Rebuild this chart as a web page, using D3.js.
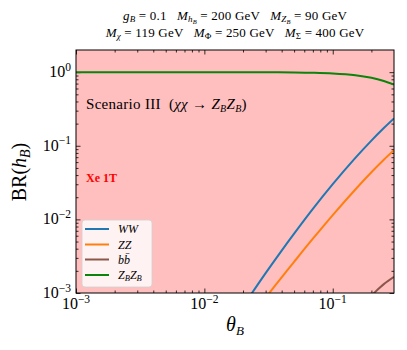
<!DOCTYPE html>
<html><head><meta charset="utf-8">
<script src="https://cdn.jsdelivr.net/npm/d3@7"></script>
<style>
body{margin:0;background:#fff;}
svg text{font-family:"Liberation Serif","DejaVu Serif",serif;}
</style></head>
<body><svg id="c" width="407" height="350"></svg>
<script>
// ---- data ----
const thetaWW = [0.02, 0.03, 0.04, 0.05, 0.07, 0.1, 0.15, 0.2, 0.25, 0.3];
const brWW    = [0.00066, 0.00186, 0.00377, 0.00641, 0.0139, 0.0301, 0.0684, 0.1175, 0.174, 0.235];
const thetaZZ = [0.03, 0.04, 0.05, 0.07, 0.1, 0.15, 0.2, 0.25, 0.3];
const brZZ    = [0.000865, 0.00163, 0.00265, 0.00546, 0.01146, 0.0255, 0.0437, 0.0646, 0.087];
const thetaBB = [0.2, 0.22, 0.25, 0.3];
const brBB    = [0.00092, 0.00108, 0.00132, 0.00166];
const thetaZBZB = [0.001, 0.003, 0.01, 0.02, 0.03, 0.05, 0.07, 0.1, 0.15, 0.2, 0.25, 0.3];
const brZBZB    = [1.0, 1.0, 1.0, 0.999, 0.997, 0.99, 0.98, 0.958, 0.906, 0.838, 0.76, 0.68];
const xTicks = [0.001, 0.01, 0.1];
const xTickExp = ["−3", "−2", "−1"];
const yTicks = [1, 0.1, 0.01, 0.001];
const yTickExp = ["0", "−1", "−2", "−3"];
const seriesNames = ["WW", "ZZ", "bb", "ZBZB"];
const colors = ["#1f77b4", "#ff7f0e", "#8c564b", "#0a840a"];

const svg = d3.select("#c");
const L = 76, R = 394, T = 50, B = 293;
const x = d3.scaleLog().domain([0.001, 0.3]).range([L, R]);
const y = d3.scaleLog().domain([0.001, 2]).range([B, T]);

svg.append("rect").attr("x", L).attr("y", T).attr("width", R - L).attr("height", B - T).attr("fill", "#ffbfbf");

svg.append("defs").append("clipPath").attr("id", "clip")
  .append("rect").attr("x", L).attr("y", T).attr("width", R - L).attr("height", B - T);

function minors(lo, hi) {
  const out = [];
  for (let e = -4; e <= 1; e++) for (let k = 2; k <= 9; k++) {
    const v = k * Math.pow(10, e);
    if (v > lo * 1.0001 && v < hi * 0.9999) out.push(v);
  }
  return out;
}
const xMin = minors(0.001, 0.3), yMin = minors(0.001, 2);

function drawAxis(axisGen, tr, vals, size) {
  const g = svg.append("g").attr("transform", tr)
    .call(axisGen.tickValues(vals).tickSizeInner(size).tickSizeOuter(0).tickFormat(""));
  g.select(".domain").remove();
  g.selectAll("line").attr("stroke", "#000").attr("stroke-width", 0.8);
  return g;
}
drawAxis(d3.axisBottom(x), `translate(0,${B})`, xTicks, -4.5);
drawAxis(d3.axisBottom(x), `translate(0,${B})`, xMin, -2.5);
drawAxis(d3.axisTop(x), `translate(0,${T})`, xTicks, -4.5);
drawAxis(d3.axisTop(x), `translate(0,${T})`, xMin, -2.5);
drawAxis(d3.axisLeft(y), `translate(${L},0)`, yTicks, -4.5);
drawAxis(d3.axisLeft(y), `translate(${L},0)`, yMin, -2.5);
drawAxis(d3.axisRight(y), `translate(${R},0)`, yTicks, -4.5);
drawAxis(d3.axisRight(y), `translate(${R},0)`, yMin, -2.5);

xTicks.forEach((v, i) => {
  const t = svg.append("text").attr("x", x(v)).attr("y", B + 16).attr("text-anchor", "middle")
    .attr("font-size", 16);
  t.append("tspan").text("10");
  t.append("tspan").attr("dy", -6.5).attr("font-size", 11.5).text(xTickExp[i]);
});
yTicks.forEach((v, i) => {
  const t = svg.append("text").attr("x", L - 5).attr("y", y(v) + 5).attr("text-anchor", "end")
    .attr("font-size", 16);
  t.append("tspan").text("10");
  t.append("tspan").attr("dy", -6.5).attr("font-size", 11.5).text(yTickExp[i]);
});

const line = d3.line().x(d => x(d[0])).y(d => y(d[1])).curve(d3.curveCatmullRom.alpha(0.5));
const series = [[thetaWW, brWW], [thetaZZ, brZZ], [thetaBB, brBB], [thetaZBZB, brZBZB]];
const gc = svg.append("g").attr("clip-path", "url(#clip)");
series.forEach((s, i) => {
  gc.append("path").datum(s[0].map((t, j) => [t, s[1][j]]))
    .attr("d", line).attr("fill", "none").attr("stroke", colors[i]).attr("stroke-width", 2);
});

svg.append("rect").attr("x", L).attr("y", T).attr("width", R - L).attr("height", B - T)
  .attr("fill", "none").attr("stroke", "#000").attr("stroke-width", 1);

// title
function sub(t, s, size, dy) { t.append("tspan").attr("font-size", size).attr("dy", dy).attr("font-style", "italic").text(s); }
const t1 = svg.append("text").attr("x", 235).attr("y", 20).attr("text-anchor", "middle").attr("font-size", 13)
  .attr("letter-spacing", 0.2).attr("xml:space", "preserve");
t1.append("tspan").attr("font-style", "italic").text("g");
sub(t1, "B", 9, 2);
t1.append("tspan").attr("dy", -2).text(" = 0.1   ");
t1.append("tspan").attr("font-style", "italic").text("M");
sub(t1, "h", 9, 2);
sub(t1, "B", 6.5, 1.5);
t1.append("tspan").attr("dy", -3.5).text(" = 200 GeV   ");
t1.append("tspan").attr("font-style", "italic").text("M");
sub(t1, "Z", 9, 2);
sub(t1, "B", 6.5, 1.5);
t1.append("tspan").attr("dy", -3.5).text(" = 90 GeV");

const t2 = svg.append("text").attr("x", 235).attr("y", 37).attr("text-anchor", "middle").attr("font-size", 13)
  .attr("letter-spacing", 0.2).attr("xml:space", "preserve");
t2.append("tspan").attr("font-style", "italic").text("M");
sub(t2, "χ", 9, 2);
t2.append("tspan").attr("dy", -2).text(" = 119 GeV   ");
t2.append("tspan").attr("font-style", "italic").text("M");
t2.append("tspan").attr("font-size", 9).attr("dy", 2).text("Φ");
t2.append("tspan").attr("dy", -2).text(" = 250 GeV   ");
t2.append("tspan").attr("font-style", "italic").text("M");
t2.append("tspan").attr("font-size", 9).attr("dy", 2).text("Σ");
t2.append("tspan").attr("dy", -2).text(" = 400 GeV");

// axis labels
const yl = svg.append("text").attr("transform", `translate(26,${172}) rotate(-90)`)
  .attr("text-anchor", "middle").attr("font-size", 20);
yl.append("tspan").text("BR(");
yl.append("tspan").attr("font-style", "italic").text("h");
yl.append("tspan").attr("font-style", "italic").attr("font-size", 14).attr("dy", 4).text("B");
yl.append("tspan").attr("dy", -4).text(")");

const xl = svg.append("text").attr("x", (L + R) / 2).attr("y", 331).attr("text-anchor", "middle").attr("font-size", 20);
xl.append("tspan").attr("font-style", "italic").text("θ");
xl.append("tspan").attr("font-style", "italic").attr("font-size", 13).attr("dy", 4).text("B");

// annotation
const sc = svg.append("text").attr("x", 86).attr("y", 109).attr("font-size", 15)
  .attr("letter-spacing", 0.3).attr("xml:space", "preserve");
sc.append("tspan").text("Scenario III  (");
sc.append("tspan").attr("font-style", "italic").text("χχ");
sc.append("tspan").text(" → ");
sc.append("tspan").attr("font-style", "italic").text("Z");
sc.append("tspan").attr("font-style", "italic").attr("font-size", 10).attr("dy", 3).text("B");
sc.append("tspan").attr("font-style", "italic").attr("dy", -3).text("Z");
sc.append("tspan").attr("font-style", "italic").attr("font-size", 10).attr("dy", 3).text("B");
sc.append("tspan").attr("dy", -3).text(")");

svg.append("text").attr("x", 86).attr("y", 182).attr("font-size", 12).attr("font-weight", "bold")
  .attr("fill", "#ff0000").attr("xml:space", "preserve").text("Xe 1T");

// legend
const lg = svg.append("g");
lg.append("rect").attr("x", 82).attr("y", 220).attr("width", 70).attr("height", 67).attr("rx", 3)
  .attr("fill", "#ffffff").attr("fill-opacity", 0.8).attr("stroke", "#d0d0d0").attr("stroke-width", 0.8);
const ly = [229, 244.5, 259.5, 275];
seriesNames.forEach((n, i) => {
  lg.append("line").attr("x1", 85).attr("x2", 109).attr("y1", ly[i]).attr("y2", ly[i])
    .attr("stroke", colors[i]).attr("stroke-width", 2);
  const tx = lg.append("text").attr("x", 118).attr("y", ly[i] + 4).attr("font-size", 12).attr("font-style", "italic");
  if (n === "WW") tx.text("WW");
  else if (n === "ZZ") tx.text("ZZ");
  else if (n === "bb") { tx.append("tspan").text("b"); tx.append("tspan").text("b̄"); }
  else {
    tx.append("tspan").text("Z");
    tx.append("tspan").attr("font-size", 8.5).attr("dy", 2).text("B");
    tx.append("tspan").attr("dy", -2).text("Z");
    tx.append("tspan").attr("font-size", 8.5).attr("dy", 2).text("B");
  }
});
</script></body></html>
